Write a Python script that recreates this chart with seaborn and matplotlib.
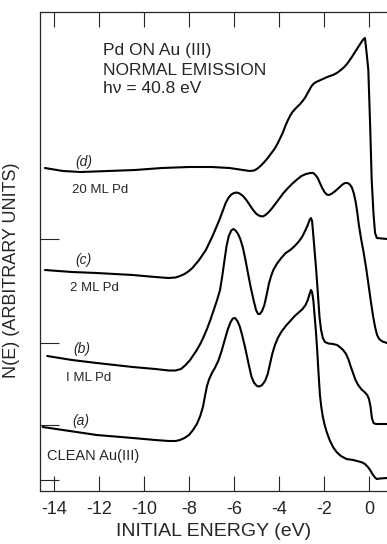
import matplotlib
matplotlib.use('Agg')
import matplotlib.pyplot as plt
import seaborn as sns
import pandas as pd

# Spectra: initial energy (eV) and stacked N(E) (arbitrary units)
energy_a = [-14.5, -13.3, -12.1, -10.5, -9.5, -8.9, -8.6, -8.4, -8.2, -8.0, -7.82, -7.65, -7.5, -7.38,
            -7.28, -7.2, -7.1, -6.98, -6.85, -6.7, -6.55, -6.4, -6.27, -6.15, -6.05, -5.95, -5.85,
            -5.75, -5.65, -5.5, -5.35, -5.22, -5.1, -4.98, -4.87, -4.75, -4.62, -4.5, -4.4, -4.3,
            -4.18, -4.05, -3.9, -3.7, -3.5, -3.3, -3.1, -2.95, -2.82, -2.72, -2.64, -2.58, -2.53,
            -2.47, -2.42, -2.36, -2.3, -2.24, -2.18, -2.12, -2.05, -1.97, -1.88, -1.75, -1.6, -1.44,
            -1.25, -1.0, -0.7, -0.45, -0.3, -0.18, -0.05, 0.05, 0.15, 0.25, 0.34, 0.5, 0.8]
nE_a = [64, 60, 56, 53, 51, 50, 50, 51, 53, 56, 61, 67, 75, 84,
        96, 105, 112, 118, 123, 130, 140, 152, 162, 169, 172.5, 173, 170,
        165, 157, 143, 127, 114, 108, 105, 104.5, 106, 110, 117, 127, 137,
        146, 153, 159, 165, 170, 175, 179, 182, 186, 191, 197, 201, 199,
        190, 176, 160, 140, 117, 96, 84, 74, 66, 59, 51, 44, 39,
        35, 32, 31, 29.5, 28.5, 27, 24, 21, 17, 14, 12, 12.5, 13]

energy_b = [-14.3, -13.2, -12.1, -10.5, -9.5, -8.9, -8.6, -8.35, -8.15, -7.95, -7.8, -7.65, -7.5,
            -7.35, -7.2, -7.05, -6.9, -6.75, -6.62, -6.52, -6.42, -6.33, -6.23, -6.12, -6.03, -5.93,
            -5.82, -5.72, -5.6, -5.48, -5.38, -5.25, -5.12, -5.02, -4.93, -4.85, -4.75, -4.65, -4.55,
            -4.45, -4.35, -4.25, -4.1, -3.9, -3.7, -3.5, -3.3, -3.1, -2.95, -2.82, -2.72, -2.64,
            -2.58, -2.53, -2.49, -2.42, -2.35, -2.27, -2.2, -2.13, -2.05, -1.96, -1.8, -1.6, -1.42,
            -1.3, -1.15, -1.02, -0.92, -0.82, -0.71, -0.6, -0.48, -0.35, -0.2, -0.08, 0.0, 0.07,
            0.13, 0.2, 0.3, 0.8]
nE_b = [135, 131, 128, 124, 122, 120.5, 120.5, 122, 126, 131, 136, 141, 147,
        154, 162, 171, 181, 191, 201, 215, 231, 245, 255, 260.5, 262, 260.5,
        257, 252, 243, 230, 218, 203, 190, 181, 177, 177, 180, 186, 196,
        207, 215, 221, 227, 233, 238, 241, 245, 250, 255, 261, 266, 271,
        273, 270, 260, 241, 222, 197, 174, 161, 153, 149, 147.5, 147, 146,
        144, 141, 137, 132, 125, 118, 111, 106, 102, 99, 96, 92, 84,
        73, 68, 67, 67]

energy_c = [-14.4, -13.2, -12.1, -10.5, -9.5, -8.9, -8.6, -8.4, -8.2, -8.0, -7.85, -7.7, -7.55,
            -7.4, -7.25, -7.1, -6.95, -6.8, -6.65, -6.5, -6.37, -6.25, -6.12, -6.0, -5.88, -5.75,
            -5.6, -5.45, -5.3, -5.15, -5.0, -4.85, -4.72, -4.6, -4.45, -4.3, -4.15, -4.0, -3.8,
            -3.6, -3.4, -3.2, -3.0, -2.8, -2.6, -2.48, -2.38, -2.28, -2.18, -2.08, -1.98, -1.88,
            -1.78, -1.68, -1.55, -1.42, -1.3, -1.18, -1.06, -0.95, -0.85, -0.76, -0.68, -0.6,
            -0.53, -0.45, -0.35, -0.25, -0.12, -0.02, 0.08, 0.18, 0.27, 0.36, 0.45, 0.6, 0.8]
nE_c = [221, 219, 218, 216, 214, 213, 213.5, 215, 217, 220, 223, 227, 231,
        236, 241, 248, 255, 263, 271, 280, 288, 293, 296.5, 298, 298.5, 297.5,
        295, 291, 286, 281, 277, 275, 274.5, 276, 279, 283, 287.5, 292, 298,
        303, 307.5, 311.5, 315, 317, 318, 318, 316, 313, 308, 303, 299, 296.5,
        296, 297, 299, 301.5, 304, 306.5, 308, 308, 306.5, 303.5, 298, 290,
        280, 266, 252, 240, 222, 206, 190, 175, 164, 156, 152, 149.5, 148]

energy_d = [-14.4, -14.0, -13.6, -13.2, -12.8, -12.2, -11.6, -11.0, -10.4, -9.8, -9.2, -8.6, -8.0,
            -7.5, -7.0, -6.6, -6.2, -5.9, -5.6, -5.3, -5.1, -4.95, -4.8, -4.65, -4.5, -4.35, -4.2,
            -4.05, -3.9, -3.8, -3.7, -3.6, -3.5, -3.4, -3.3, -3.2, -3.08, -2.95, -2.85, -2.75,
            -2.65, -2.55, -2.45, -2.35, -2.2, -2.0, -1.8, -1.6, -1.43, -1.25, -1.1, -0.98, -0.87,
            -0.76, -0.65, -0.55, -0.45, -0.35, -0.26, -0.18, -0.1, -0.03, 0.05, 0.12, 0.2, 0.27,
            0.35, 0.8]
nE_d = [323, 321.5, 320, 319.5, 319, 319.5, 320, 320.5, 321, 322, 323, 323.5, 324,
        324, 324, 323.5, 323, 322, 321, 320, 320.5, 322.5, 325.5, 329, 333, 337.5, 342,
        348, 355, 360, 366, 371, 375.5, 379, 381.5, 384, 386.5, 390, 393, 397,
        401, 405, 407.5, 409, 410.5, 412.5, 414.5, 416, 418, 421, 424, 427, 430.5,
        434, 438, 441.5, 445, 448.5, 451.5, 453, 437, 421, 366, 311, 277, 258,
        253, 252]

zero_levels = [11, 66, 148, 252]  # zero line of each spectrum (a, b, c, d)
curve_names = ['(a)', '(b)', '(c)', '(d)']
coverage_labels = ['CLEAN Au(III)', 'I ML Pd', '2 ML Pd', '20 ML Pd']
x_ticks = [-14, -12, -10, -8, -6, -4, -2, 0]

# build one long table with the stacked spectra
frames = []
for name, e, n in zip(curve_names, [energy_a, energy_b, energy_c, energy_d],
                      [nE_a, nE_b, nE_c, nE_d]):
    frames.append(pd.DataFrame({'E': e, 'N': n, 'curve': name}))
spectra = pd.concat(frames, ignore_index=True)

sns.set_style('ticks')
plt.rcParams['font.family'] = ['Liberation Sans', 'DejaVu Sans']

fig = plt.figure(figsize=(3.87, 5.44), dpi=100)
ax = fig.add_axes([40 / 387, 53 / 544, 347 / 387, 479 / 544])

sns.lineplot(data=spectra, x='E', y='N', hue='curve', units='curve', estimator=None,
             palette=['black'] * 4, legend=False, sort=False, linewidth=1.5, ax=ax)

ax.set_xlim(-14.62, 0.8)
ax.set_ylim(0, 479)

# ticks: inward on bottom/top, short marks at each zero level on the left
ax.set_xticks(x_ticks)
ax.set_xticklabels([str(t) for t in x_ticks])
ax.tick_params(axis='x', direction='in', length=11, width=0.8, top=True, labelsize=13, pad=7)
ax.set_yticks(zero_levels)
ax.set_yticklabels([])
ax.tick_params(axis='y', direction='in', length=14, width=0.8)

for side in ['left', 'bottom', 'top']:
    ax.spines[side].set_linewidth(0.9)
ax.spines['right'].set_visible(False)

ax.set_xlabel('INITIAL ENERGY (eV)', fontsize=14, labelpad=4)
ax.set_ylabel('N(E) (ARBITRARY UNITS)', fontsize=13)
ax.yaxis.set_label_coords(-0.058, 0.46)

# header text
ax.text(-11.82, 436, 'Pd ON Au (III)', fontsize=12.5, va='baseline')
ax.text(-11.82, 416, 'NORMAL EMISSION', fontsize=12.5, va='baseline')
ax.text(-11.82, 398, 'hν = 40.8 eV', fontsize=12.5, va='baseline')

# curve labels
name_pos = [(-13.2, 70), (-13.16, 142), (-13.07, 231), (-13.07, 329)]
cov_pos = [(-14.31, 35), (-13.47, 113), (-13.29, 203), (-13.2, 301)]
cov_size = [10.5, 9.5, 9.5, 9.5]
for name, (x, y) in zip(curve_names, name_pos):
    ax.text(x, y, name, fontsize=10, style='italic', va='center')
for lab, (x, y), fs in zip(coverage_labels, cov_pos, cov_size):
    ax.text(x, y, lab, fontsize=fs, va='center')

fig.savefig('out.png', dpi=100)
